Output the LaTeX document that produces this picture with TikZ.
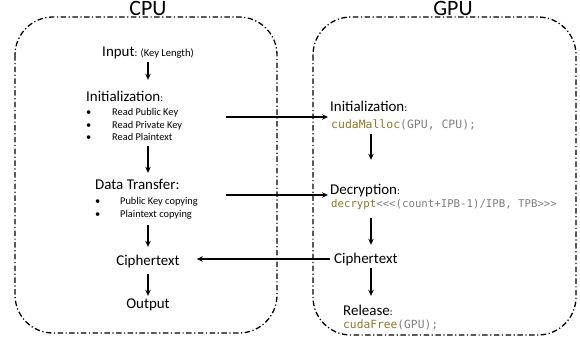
\documentclass[tikz,border=0pt]{standalone}
\usepackage{fontspec}
\setmainfont{Carlito}
\setmonofont{DejaVu Sans Mono}
\usetikzlibrary{arrows.meta,calc}
\definecolor{codegold}{RGB}{140,118,38}
\definecolor{codegray}{RGB}{125,125,125}
\tikzset{
 region/.style={draw, line width=1.3bp, rounded corners=38bp, dash pattern=on 5.5bp off 2.5bp on 1.2bp off 2.5bp},
 title/.style={font=\fontsize{22}{24}\selectfont, inner sep=0pt, anchor=base},
 big/.style={font=\fontsize{15}{17}\selectfont, inner sep=0pt, text height=11bp, text depth=3bp},
 small/.style={font=\fontsize{10.4}{12}\selectfont, inner sep=0pt, anchor=west, text height=7.5bp, text depth=2.5bp},
 code/.style={font=\ttfamily\fontsize{11.5}{13}\selectfont, inner sep=0pt, anchor=west, text=codegray, text height=8bp, text depth=2.5bp},
 arr/.style={-{Stealth[length=6bp,width=5.5bp]}, line width=1.2bp},
}
\newcommand{\sm}[1]{{\fontsize{10.6}{12}\selectfont #1}}
\newcommand{\fn}[1]{\textcolor{codegold}{#1}}
\begin{document}
\begin{tikzpicture}[x=1bp,y=-1bp]
\useasboundingbox (0,0) rectangle (580,347);
% containers
\draw[region] (15,17) rectangle (277,333);
\draw[region] (313,17) rectangle (576,335);
\node[title] (cputitle) at (148,15) {CPU};
\node[title] (gputitle) at (453,15) {GPU};
% CPU column
\node[big] (cpuin) at (148,52) {Input\sm{: (Key Length)}};
\node[big, anchor=west] (cpuinit) at (86,97) {Initialization\sm{:}};
\node[small] (b1) at (86,113) {\makebox[26bp][l]{•}Read Public Key};
\node[small] (b2) at (86,126) {\makebox[26bp][l]{•}Read Private Key};
\node[small] (b3) at (86,138) {\makebox[26bp][l]{•}Read Plaintext};
\node[big, anchor=west] (dt) at (95,185) {Data Transfer:};
\node[small] (d1) at (95,202) {\makebox[25bp][l]{•}Public Key copying};
\node[small] (d2) at (95,215) {\makebox[25bp][l]{•}Plaintext copying};
\node[big] (ccipher) at (148,261) {Ciphertext};
\node[big] (output) at (148,304) {Output};
% GPU column
\coordinate (gcol) at (371,0);
\node[big, anchor=west] (ginit) at (330,107) {Initialization\sm{:}};
\node[code] (malloc) at (331,126) {\fn{cudaMalloc}(GPU, CPU);};
\node[big, anchor=west] (decry) at (330,190) {Decryption\sm{:}};
\node[code, font=\ttfamily\fontsize{10.75}{13}\selectfont] (dcall) at (331,205) {\fn{decrypt}<{}<{}<(count+IPB-1)/IPB, TPB>{}>{}>};
\node[big, anchor=west] (gcipher) at (334,259) {Ciphertext};
\node[big, anchor=west] (release) at (343,311) {Release\sm{:}};
\node[code, font=\ttfamily\fontsize{11.3}{13}\selectfont] (cfree) at (343,326) {\fn{cudaFree}(GPU);};
% CPU arrows
\draw[arr, shorten <=3bp, shorten >=10bp] (cpuin.south) -- (cpuin.south |- cpuinit.north);
\draw[arr, shorten <=3bp, shorten >=5bp] (b3.south -| cpuin) -- (cpuin |- dt.north);
\draw[arr, shorten <=5bp, shorten >=7bp] (d2.south -| cpuin) -- (cpuin |- ccipher.north);
\draw[arr, shorten <=6bp, shorten >=1bp] (ccipher.south) -- (output.north);
% GPU arrows
\draw[arr, shorten <=3bp, shorten >=23bp] (malloc.south -| gcol) -- (gcol |- decry.north);
\draw[arr, shorten <=8bp, shorten >=7bp] (dcall.south -| gcol) -- (gcol |- gcipher.north);
\draw[arr, shorten <=2bp, shorten >=8bp] (gcipher.south -| gcol) -- (gcol |- release.north);
% cross arrows
\coordinate (a1) at (226,117);
\coordinate (a2) at (226,195);
\draw[arr, shorten >=2bp] (a1) -- (a1 -| ginit.west);
\draw[arr, shorten >=2bp] (a2) -- (a2 -| decry.west);
\draw[arr, shorten <=4bp, shorten >=17bp] (gcipher.west) -- (gcipher.west -| ccipher.east);
\end{tikzpicture}
\end{document}
